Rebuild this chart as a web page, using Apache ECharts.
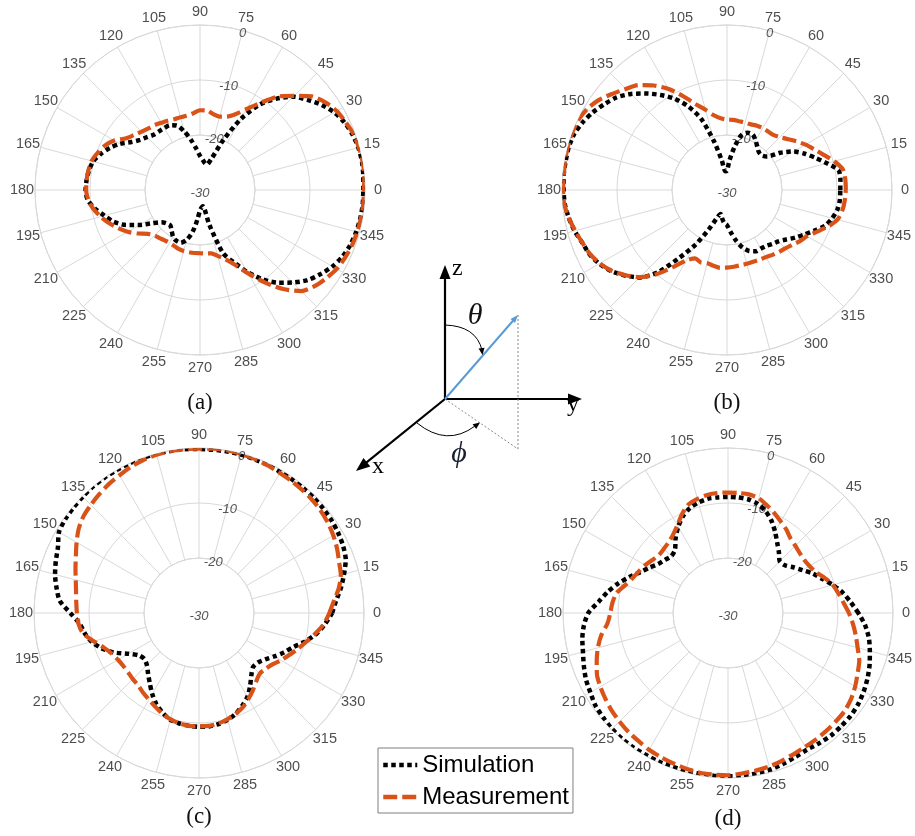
<!DOCTYPE html>
<html><head><meta charset="utf-8">
<script src="https://cdn.jsdelivr.net/npm/echarts@6/dist/echarts.min.js"></script>
<style>html,body{margin:0;padding:0;background:#fff}#c{width:915px;height:836px}</style>
</head><body><div id="c"></div>
<script>
// ---------- data ----------
const angles = [0,5,10,15,20,25,30,35,40,45,50,55,60,65,70,75,80,85,90,95,100,105,110,115,120,125,130,135,140,145,150,155,160,165,170,175,180,185,190,195,200,205,210,215,220,225,230,235,240,245,250,255,260,265,270,275,280,285,290,295,300,305,310,315,320,325,330,335,340,345,350,355];

const simA = [-0.3,-0.2,-0.1,-0.2,-0.5,-1.0,-1.8,-3.0,-4.5,-6.0,-8.3,-11.0,-15.0,-20.0,-24.0,-25.2,-25.0,-24.5,-23.8,-22.5,-20.8,-19.0,-17.5,-17.0,-17.0,-17.0,-16.9,-16.4,-15.8,-14.8,-13.2,-11.9,-10.8,-9.9,-9.5,-9.3,-9.2,-9.5,-10.6,-12.0,-13.2,-15.0,-17.3,-19.5,-20.9,-21.4,-21.6,-21.0,-20.2,-19.8,-19.8,-20.6,-22.3,-24.6,-26.3,-26.8,-27.0,-23.5,-17.8,-15.5,-12.8,-10.2,-8.0,-6.2,-4.5,-3.3,-2.2,-1.4,-0.9,-0.6,-0.4,-0.3];
const measA = [-0.2,0,0,-0.1,-0.3,-0.8,-1.3,-2.2,-3.5,-5.8,-7.8,-10.6,-13.0,-14.8,-15.8,-16.2,-16.0,-15.5,-15.5,-16.0,-16.3,-16.3,-16.3,-16.1,-15.9,-15.6,-15.4,-15.0,-14.4,-13.6,-12.0,-10.9,-10.2,-9.6,-9.4,-9.3,-9.3,-9.6,-10.3,-11.3,-12.4,-13.6,-14.8,-16.2,-17.6,-18.3,-18.6,-18.8,-18.9,-18.8,-18.6,-18.5,-18.5,-18.5,-18.5,-18.4,-18.3,-17.6,-16.6,-15.0,-12.5,-9.5,-6.5,-4.0,-2.8,-2.0,-1.3,-0.9,-0.6,-0.4,-0.3,-0.2];

const simB = [-9.4,-9.3,-9.4,-11.2,-12.9,-14.4,-16.0,-18.2,-20.5,-21.1,-21.0,-20.4,-19.6,-18.9,-18.9,-19.6,-22.0,-24.5,-26.5,-26.6,-24.5,-20.8,-16.2,-13.2,-10.8,-8.9,-7.1,-5.3,-3.8,-2.8,-1.8,-1.0,-0.4,-0.2,-0.2,-0.2,-0.3,-0.4,-0.8,-1.3,-2.0,-2.4,-3.2,-4.3,-5.8,-7.5,-10.5,-15.0,-18.5,-22.0,-24.5,-25.5,-24.8,-24.0,-23.6,-22.3,-20.7,-19.2,-18.2,-17.7,-17.7,-17.6,-17.2,-16.8,-16.0,-14.9,-13.8,-12.5,-11.0,-10.2,-9.6,-9.4];
const measB = [-8.4,-8.4,-8.6,-9.8,-11.3,-12.5,-13.5,-14.6,-15.6,-16.4,-16.9,-17.0,-17.0,-17.1,-17.3,-17.3,-17.3,-17.2,-17.2,-16.9,-16.2,-14.9,-13.4,-11.2,-8.8,-6.8,-5.1,-4.0,-2.8,-1.5,-0.6,-0.1,0,0,-0.1,-0.2,-0.2,-0.3,-0.8,-1.4,-2.0,-2.5,-3.3,-4.4,-5.9,-7.6,-10.0,-12.9,-15.2,-16.3,-16.0,-16.2,-16.0,-15.8,-15.9,-16.0,-16.1,-16.1,-16.1,-16.0,-15.9,-15.6,-15.3,-15.0,-14.5,-13.8,-13.2,-12.0,-10.5,-9.2,-8.7,-8.5];

const simC = [-5.8,-5.0,-3.8,-2.7,-1.6,-1.1,-0.8,-0.6,-0.5,-0.4,-0.4,-0.4,-0.4,-0.3,-0.3,-0.2,-0.2,-0.2,-0.2,-0.1,-0.1,0,0,0,0,0,0,-0.1,-0.2,-0.3,-0.6,-1.7,-2.3,-2.9,-3.7,-4.6,-6.6,-8.2,-8.9,-9.8,-11.2,-13.0,-15.2,-16.6,-17.0,-16.6,-15.6,-14.4,-13.0,-11.7,-10.7,-9.9,-9.6,-9.4,-9.3,-9.3,-9.5,-9.9,-10.5,-11.4,-12.4,-13.8,-15.2,-16.1,-16.0,-15.3,-14.2,-13.0,-11.8,-10.0,-8.3,-7.0];
const measC = [-6.3,-5.4,-4.2,-3.3,-2.9,-2.3,-1.8,-1.4,-1.1,-0.9,-0.8,-0.7,-0.6,-0.4,-0.2,-0.1,0,0,-0.1,-0.1,-0.1,-0.2,-0.4,-0.7,-1.1,-1.4,-1.8,-2.2,-2.6,-3.3,-4.3,-5.3,-6.1,-6.8,-7.3,-7.6,-7.8,-8.0,-8.6,-10.2,-11.6,-12.5,-13.0,-13.2,-13.2,-13.0,-12.8,-12.3,-11.8,-11.2,-10.5,-10.0,-9.6,-9.4,-9.4,-9.4,-9.6,-10.0,-10.5,-11.1,-12.0,-12.9,-13.8,-14.4,-14.2,-13.7,-12.8,-11.9,-10.9,-9.8,-8.5,-7.2];

const simD = [-6.3,-7.6,-8.8,-10.3,-11.8,-13.0,-14.4,-15.5,-16.5,-16.7,-15.6,-14.4,-12.9,-11.4,-10.2,-9.4,-9.0,-8.9,-8.9,-8.9,-8.9,-9.2,-9.7,-10.6,-11.9,-13.4,-15.0,-15.4,-15.0,-14.5,-13.5,-12.4,-10.9,-9.3,-7.8,-6.4,-4.6,-3.7,-3.1,-2.7,-2.1,-1.5,-1.1,-0.6,-0.4,-0.2,-0.1,-0.1,-0.2,-0.2,-0.3,-0.3,-0.3,-0.3,-0.3,-0.3,-0.4,-0.5,-0.8,-1.1,-1.3,-1.1,-0.9,-0.9,-0.9,-1.1,-1.5,-2.0,-2.6,-3.3,-4.0,-5.0];
const measD = [-8.0,-8.9,-9.6,-10.3,-11.3,-12.4,-12.9,-13.1,-13.0,-12.7,-12.3,-11.5,-10.8,-10.0,-9.2,-8.4,-8.1,-8.1,-8.1,-8.1,-8.2,-8.5,-9.0,-10.2,-11.6,-12.6,-13.2,-13.5,-13.6,-13.2,-12.6,-12.1,-11.5,-10.6,-9.4,-8.9,-8.6,-8.0,-6.6,-5.5,-4.6,-3.7,-3.2,-2.8,-2.4,-2.1,-1.8,-1.6,-1.3,-1.1,-0.9,-0.7,-0.5,-0.5,-0.5,-0.7,-0.9,-1.1,-1.4,-1.7,-1.9,-2.0,-2.1,-2.2,-2.3,-2.7,-3.3,-4.0,-4.6,-5.6,-6.4,-7.2];

const angleTicks = [0,15,30,45,60,75,90,105,120,135,150,165,180,195,210,225,240,255,270,285,300,315,330,345];
const radialTicks = [0,-10,-20,-30];
const panelLabels = ['(a)','(b)','(c)','(d)'];
const seriesNames = ['Simulation','Measurement'];

// ---------- layout / style ----------
const simSets = [simA, simB, simC, simD];
const measSets = [measA, measB, measC, measD];
const centers = [[200,190],[727,190],[199,613],[728,613]];
const captionY = [403, 403, 817, 819];
const R = 165, R0 = 55, RL = 178;
const GRID = '#d9d9d9';
const ORANGE = '#D95319';

const polar = [], angleAxis = [], radiusAxis = [], series = [], graphic = [];

function pairs(vals){
  const d = vals.map((v,k)=>[v, angles[k]]);
  d.push([vals[0], 360]);
  return d;
}

centers.forEach((c, i) => {
  const gi = i*3, di = i*3+1, li = i*3+2;
  // grid polar (rings -20..0, spokes)
  polar.push({center: c, radius: [R0, R]});
  angleAxis.push({polarIndex: gi, type:'value', min:0, max:360, interval:15, startAngle:0, clockwise:false,
    axisLine:{show:true, lineStyle:{color:GRID, width:1}}, axisTick:{show:false}, axisLabel:{show:false},
    splitLine:{show:true, lineStyle:{color:GRID, width:1}}});
  radiusAxis.push({polarIndex: gi, type:'value', min:-20, max:0, interval:10,
    axisLine:{show:false}, axisTick:{show:false}, axisLabel:{show:false},
    splitLine:{show:true, lineStyle:{color:GRID, width:1}}});
  // data polar
  polar.push({center: c, radius: [0, R]});
  angleAxis.push({polarIndex: di, type:'value', min:0, max:360, startAngle:0, clockwise:false, show:false,
    splitLine:{show:false}, axisLine:{show:false}});
  radiusAxis.push({polarIndex: di, type:'value', min:-30, max:0, show:false, splitLine:{show:false}});
  // label polar
  polar.push({center: c, radius: [0, RL]});
  angleAxis.push({polarIndex: li, type:'value', min:0, max:360, startAngle:0, clockwise:false, show:false,
    splitLine:{show:false}, axisLine:{show:false}});
  radiusAxis.push({polarIndex: li, type:'value', min:0, max:1, show:false, splitLine:{show:false}});

  series.push({type:'line', name: seriesNames[0], coordinateSystem:'polar', polarIndex: di,
    data: pairs(simSets[i]), symbol:'none', smooth:0.25, silent:true, z:3,
    lineStyle:{color:'#000', width:4.5, type:[4.5,3.5]}, itemStyle:{color:'#000'}});
  series.push({type:'line', name: seriesNames[1], coordinateSystem:'polar', polarIndex: di,
    data: pairs(measSets[i]), symbol:'none', smooth:0.25, silent:true, z:4,
    lineStyle:{color:ORANGE, width:4.2, type:[14,5]}, itemStyle:{color:ORANGE}});
  // angle tick labels
  series.push({type:'scatter', name:'angleLabels'+i, coordinateSystem:'polar', polarIndex: li,
    data: angleTicks.map(a=>[1, a]), symbolSize:1, silent:true,
    itemStyle:{color:'rgba(0,0,0,0)'},
    label:{show:true, position:'inside', formatter: p => String(p.value[1]),
      fontSize:14.5, color:'#1e1e1e', fontFamily:'"Liberation Sans", Arial, sans-serif'}});
  // radial tick labels
  series.push({type:'scatter', name:'radialLabels'+i, coordinateSystem:'polar', polarIndex: di,
    data: radialTicks.map(v=>[v, 75]), symbolSize:1, silent:true, z:2,
    itemStyle:{color:'rgba(0,0,0,0)'},
    label:{show:true, position:'inside', offset:[0,3], formatter: p => String(p.value[0]),
      fontSize:13, fontStyle:'italic', color:'#2a2a2a', fontFamily:'"Liberation Sans", Arial, sans-serif'}});

  graphic.push({type:'text', x: c[0], y: captionY[i], silent:true,
    style:{text: panelLabels[i], x:0, y:0, align:'center', verticalAlign:'middle', textAlign:'center', textVerticalAlign:'middle',
      font:'23px "Liberation Serif", "Times New Roman", serif', fill:'#111'}});
});

// ---------- coordinate diagram ----------
function arrowHead(tip, from, len, hw, color){
  const dx = tip[0]-from[0], dy = tip[1]-from[1];
  const L = Math.hypot(dx, dy), ux = dx/L, uy = dy/L;
  const bx = tip[0]-ux*len, by = tip[1]-uy*len;
  return {type:'polygon', silent:true, shape:{points:[[tip[0],tip[1]],[bx-uy*hw, by+ux*hw],[bx+uy*hw, by-ux*hw]]}, style:{fill:color}};
}
const O = [445, 399];
const zTip = [445, 265], yTip = [582, 399], xTip = [356, 471], vTip = [518, 315], foot = [518, 449];
function shaft(tip, len){
  const dx = tip[0]-O[0], dy = tip[1]-O[1]; const L = Math.hypot(dx,dy);
  return [tip[0]-dx/L*len, tip[1]-dy/L*len];
}
[zTip, yTip, xTip].forEach(t => {
  const e = shaft(t, 10);
  graphic.push({type:'line', silent:true, shape:{x1:O[0], y1:O[1], x2:e[0], y2:e[1]}, style:{stroke:'#000', lineWidth:2.2}});
  graphic.push(arrowHead(t, O, 14, 5.5, '#000'));
});
// dotted projection lines
graphic.push({type:'line', silent:true, shape:{x1:vTip[0], y1:vTip[1], x2:foot[0], y2:foot[1]}, style:{stroke:'#888', lineWidth:1, lineDash:[2,2]}});
graphic.push({type:'line', silent:true, shape:{x1:O[0], y1:O[1], x2:foot[0], y2:foot[1]}, style:{stroke:'#888', lineWidth:1, lineDash:[2,2]}});
// blue vector
const vEnd = shaft(vTip, 6);
graphic.push({type:'line', silent:true, shape:{x1:O[0], y1:O[1], x2:vEnd[0], y2:vEnd[1]}, style:{stroke:'#5B9BD5', lineWidth:2}});
graphic.push(arrowHead(vTip, O, 8, 3, '#5B9BD5'));
// theta arc
graphic.push({type:'bezierCurve', silent:true, shape:{x1:445, y1:325, cpx1:476, cpy1:326, x2:482, y2:350}, style:{stroke:'#000', lineWidth:1, fill:null}});
graphic.push(arrowHead([482.5,355], [481,344], 7, 3, '#000'));
// phi arc
graphic.push({type:'bezierCurve', silent:true, shape:{x1:417, y1:423, cpx1:447, cpy1:447, x2:475, y2:426}, style:{stroke:'#000', lineWidth:1, fill:null}});
graphic.push(arrowHead([480,422.5], [472,428.5], 7, 3, '#000'));
// axis letters
const serif = '"Liberation Serif", "DejaVu Serif", "Times New Roman", serif';
graphic.push({type:'text', x:452, y:269, silent:true, style:{text:'z', align:'left', verticalAlign:'middle', textAlign:'left', textVerticalAlign:'middle', font:'24px '+serif, fill:'#000'}});
graphic.push({type:'text', x:567, y:405, silent:true, style:{text:'y', align:'left', verticalAlign:'middle', textAlign:'left', textVerticalAlign:'middle', font:'24px '+serif, fill:'#000'}});
graphic.push({type:'text', x:372, y:467, silent:true, style:{text:'x', align:'left', verticalAlign:'middle', textAlign:'left', textVerticalAlign:'middle', font:'24px '+serif, fill:'#000'}});
graphic.push({type:'text', x:475, y:316, silent:true, style:{text:'\u03B8', align:'center', verticalAlign:'middle', textAlign:'center', textVerticalAlign:'middle', font:'italic 30px '+serif, fill:'#111'}});
graphic.push({type:'text', x:459, y:454, silent:true, style:{text:'\u03D5', align:'center', verticalAlign:'middle', textAlign:'center', textVerticalAlign:'middle', font:'italic 30px '+serif, fill:'#1a2033'}});

const option = {
  animation:false,
  backgroundColor:'#fff',
  polar, angleAxis, radiusAxis, series, graphic,
  legend:{
    data: seriesNames, orient:'vertical', left:378, top:748,
    itemWidth:34, itemHeight:14, itemGap:8, padding:[5,4,4,3],
    borderColor:'#7f7f7f', borderWidth:1, borderRadius:0, backgroundColor:'#fff',
    selectedMode:false,
    itemStyle:{opacity:0},
    lineStyle:{width:4.5},
    textStyle:{fontSize:24, color:'#000', fontFamily:'"Liberation Sans", Arial, sans-serif'}
  }
};
const chart = echarts.init(document.getElementById('c'), null, {renderer:'canvas'});
chart.setOption(option);
</script></body></html>
